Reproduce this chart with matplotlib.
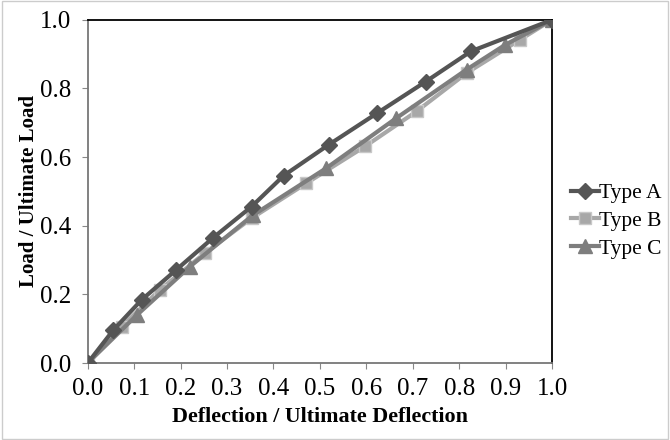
import matplotlib.pyplot as plt
from matplotlib.patches import Rectangle

# data
a_x = [0, 0.055, 0.116, 0.191, 0.27, 0.353, 0.422, 0.519, 0.622, 0.728, 0.825, 1.0]
a_y = [0, 0.096, 0.184, 0.272, 0.365, 0.456, 0.546, 0.636, 0.727, 0.82, 0.908, 1.0]
b_x = [0, 0.073, 0.155, 0.252, 0.353, 0.471, 0.597, 0.708, 0.816, 0.931, 1.0]
b_y = [0, 0.106, 0.213, 0.32, 0.422, 0.524, 0.631, 0.733, 0.845, 0.942, 1.0]
c_x = [0, 0.106, 0.22, 0.355, 0.514, 0.664, 0.816, 0.899, 1.0]
c_y = [0, 0.14, 0.281, 0.43, 0.568, 0.713, 0.855, 0.927, 1.0]
ticks = [0.0, 0.1, 0.2, 0.3, 0.4, 0.5, 0.6, 0.7, 0.8, 0.9, 1.0]
yticks = [0.0, 0.2, 0.4, 0.6, 0.8, 1.0]

plt.rcParams['font.family'] = ['Liberation Serif', 'DejaVu Serif']

fig = plt.figure(figsize=(6.7, 4.4), dpi=100)
ax = fig.add_axes([0.131, 0.175, 0.693, 0.78])

ax.plot(b_x, b_y, color='#a8a8a8', lw=3, marker='s', ms=9, mec='#c8c8c8', label='Type B', zorder=3)
ax.plot(c_x, c_y, color='#7e7e7e', lw=3, marker='^', ms=10, mec='#7e7e7e', label='Type C', zorder=4)
ax.plot(a_x, a_y, color='#555555', lw=3, marker='D', ms=8, mec='#555555', label='Type A', zorder=5)

ax.set_xlim(0, 1)
ax.set_ylim(0, 1)
ax.set_xticks(ticks)
ax.set_yticks(yticks)
ax.set_xticklabels([f'{t:.1f}' for t in ticks])
ax.set_yticklabels([f'{t:.1f}' for t in yticks])
ax.tick_params(direction='out', length=4, color='#888888', labelsize=18, pad=7)
ax.tick_params(axis='y', pad=8)
for s in ['top', 'right']:
    ax.spines[s].set_color('black')
    ax.spines[s].set_linewidth(1.3)
for s in ['left', 'bottom']:
    ax.spines[s].set_color('#777777')
    ax.spines[s].set_linewidth(1.3)

ax.set_xlabel('Deflection / Ultimate Deflection', fontsize=15.8, fontweight='bold', labelpad=5)
ax.set_ylabel('Load / Ultimate Load', fontsize=15, fontweight='bold')
ax.yaxis.set_label_coords(-0.106, 0.5)

h, l = ax.get_legend_handles_labels()
order = [2, 0, 1]
ax.legend([h[i] for i in order], [l[i] for i in order], loc='center left',
          bbox_to_anchor=(1.0, 0.414), frameon=False, fontsize=15.5,
          handlelength=1.3, handletextpad=0.0, labelspacing=0.35)

fig.patches.append(Rectangle((0.003, 0.003), 0.994, 0.994, transform=fig.transFigure,
                             fill=False, edgecolor='#cccccc', lw=1))

fig.savefig('out.png', dpi=100)
